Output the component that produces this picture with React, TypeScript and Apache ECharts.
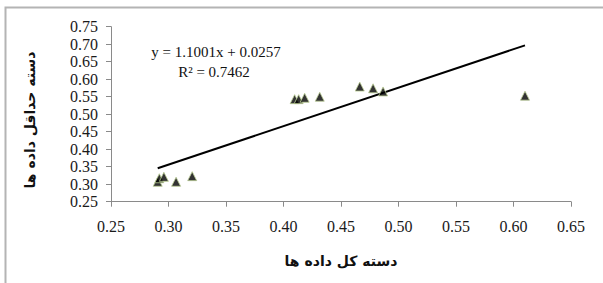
import React, { useEffect, useRef } from "react";
import * as echarts from "echarts";

const xValues = [0.2906, 0.292, 0.296, 0.3066, 0.3206, 0.4097, 0.4132, 0.4184, 0.4315, 0.4663, 0.4779, 0.4866, 0.61];
const yValues = [0.307, 0.317, 0.321, 0.307, 0.323, 0.543, 0.543, 0.547, 0.55, 0.579, 0.574, 0.565, 0.553];
const slope = 1.1001;
const intercept = 0.0257;
const equationText = "y = 1.1001x + 0.0257";
const r2Text = "R² = 0.7462";
const xTitle = "دسته کل داده ها";
const yTitle = "دسته حداقل داده ها";

export default function App() {
  const ref = useRef<HTMLDivElement>(null);
  useEffect(() => {
    if (!ref.current) return;
    const chart = echarts.init(ref.current, null, { renderer: "svg" });
    const pts = xValues.map((x, i) => [x, yValues[i]]);
    const xmin = Math.min(...xValues);
    const xmax = Math.max(...xValues);
    const trend = [
      [xmin, slope * xmin + intercept],
      [xmax, slope * xmax + intercept],
    ];
    const serif = "Liberation Serif";
    chart.setOption({
      animation: false,
      backgroundColor: "#fff",
      grid: { left: 111, right: 32, top: 26.7, bottom: 81.3, containLabel: false },
      xAxis: {
        type: "value",
        min: 0.25,
        max: 0.65,
        interval: 0.05,
        axisLine: { show: true, lineStyle: { color: "#8a8a8a", width: 1 } },
        axisTick: { show: true, inside: false, length: 5, lineStyle: { color: "#8a8a8a" } },
        splitLine: { show: false },
        axisLabel: {
          margin: 17,
          color: "#1a1a1a",
          fontFamily: serif,
          fontSize: 16,
          formatter: (v: number) => v.toFixed(2),
        },
        name: xTitle,
        nameLocation: "middle",
        nameGap: 52,
        nameTextStyle: {
          fontFamily: "DejaVu Sans",
          fontWeight: "bold",
          fontSize: 14,
          color: "#111",
        },
      },
      yAxis: {
        type: "value",
        min: 0.25,
        max: 0.75,
        interval: 0.05,
        axisLine: { show: true, lineStyle: { color: "#8a8a8a", width: 1 } },
        axisTick: { show: true, inside: false, length: 5, lineStyle: { color: "#8a8a8a" } },
        splitLine: { show: false },
        axisLabel: {
          margin: 13,
          color: "#1a1a1a",
          fontFamily: serif,
          fontSize: 16,
          formatter: (v: number) => v.toFixed(2),
        },
      },
      graphic: [
        {
          type: "rect",
          shape: { x: 5.5, y: 7.5, width: 1000, height: 1000 },
          style: { fill: "none", stroke: "#b4b4b4", lineWidth: 2 },
          silent: true,
        },
        {
          type: "text",
          x: 30,
          y: 120,
          rotation: Math.PI / 2,
          style: {
            text: yTitle,
            fontFamily: "DejaVu Sans",
            fontWeight: "bold",
            fontSize: 14,
            fill: "#111",
            align: "center",
            verticalAlign: "middle",
          },
        },
        {
          type: "text",
          x: 216,
          y: 52,
          style: {
            text: equationText,
            fontFamily: serif,
            fontSize: 15,
            fill: "#111",
            align: "center",
            verticalAlign: "middle",
          },
        },
        {
          type: "text",
          x: 214,
          y: 72,
          style: {
            text: r2Text,
            fontFamily: serif,
            fontSize: 15,
            fill: "#111",
            align: "center",
            verticalAlign: "middle",
          },
        },
      ],
      series: [
        {
          type: "line",
          data: trend,
          symbol: "none",
          lineStyle: { color: "#000", width: 2 },
          z: 2,
        },
        {
          type: "scatter",
          data: pts,
          symbol: "triangle",
          symbolSize: 9,
          itemStyle: { color: "#000", borderColor: "#b9cc94", borderWidth: 1 },
          z: 3,
        },
      ],
    });
    return () => chart.dispose();
  }, []);
  return (
    <div
      ref={ref}
      style={{ position: "fixed", left: 0, top: 0, width: 603, height: 283 }}
    />
  );
}
